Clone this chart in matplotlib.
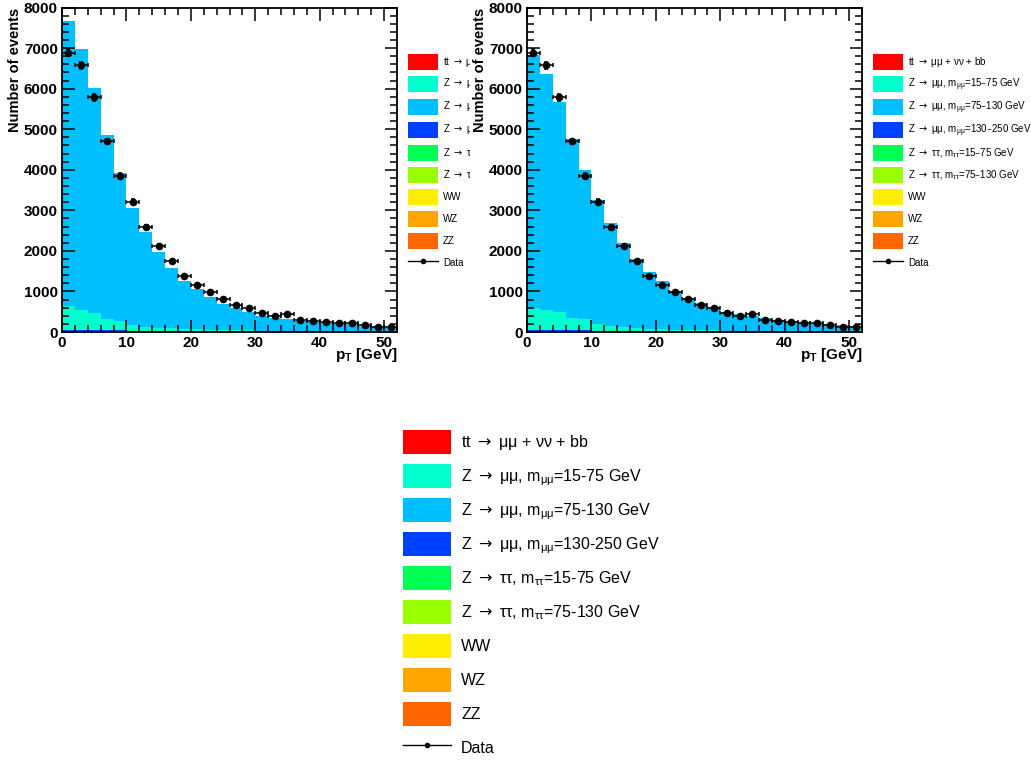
import numpy as np
import matplotlib
matplotlib.use("Agg")
import matplotlib.pyplot as plt
from matplotlib.patches import Patch
from matplotlib.lines import Line2D
from matplotlib.ticker import MultipleLocator, FixedLocator
from matplotlib.transforms import Bbox, TransformedBbox

plt.rcParams['font.family'] = ['Liberation Sans', 'DejaVu Sans']
plt.rcParams['mathtext.default'] = 'regular'
plt.rcParams['mathtext.fontset'] = 'dejavusans'

# ---------------- data ----------------
pt_edges = [0, 2, 4, 6, 8, 10, 12, 14, 16, 18, 20, 22, 24, 26, 28, 30,
            32, 34, 36, 38, 40, 42, 44, 46, 48, 50, 52]

data_counts = [6883, 6571, 5783, 4700, 3856, 3216, 2592, 2125, 1739, 1378,
               1157, 985, 812, 656, 582, 476, 402, 435, 287, 279, 254, 213,
               213, 164, 131, 123]

# small backgrounds (same in both panels)
tt_mumu = [1, 2, 2, 2, 2, 2, 2, 2, 2, 2, 2, 2, 2, 2, 1, 1, 1, 1, 1, 1, 1, 1, 1, 1, 1, 1]
ww = [1, 1, 1, 1, 1, 1, 1, 1, 1, 1, 1, 1, 1, 1, 1, 1, 1, 1, 1, 1, 1, 1, 1, 1, 1, 1]
wz = [1, 1, 1, 1, 1, 1, 1, 1, 1, 1, 1, 1, 1, 1, 1, 1, 1, 1, 1, 1, 1, 1, 1, 1, 1, 1]
zz = [1, 1, 1, 1, 1, 1, 1, 1, 1, 1, 1, 1, 1, 1, 1, 1, 1, 1, 1, 1, 1, 1, 1, 1, 1, 1]
ztt_75_130 = [8, 9, 9, 8, 8, 7, 7, 6, 6, 5, 5, 4, 4, 4, 3, 3, 3, 2, 2, 2, 2, 2, 1, 1, 1, 1]
ztt_15_75 = [14, 14, 13, 12, 11, 10, 9, 8, 7, 6, 6, 5, 5, 4, 4, 3, 3, 3, 3, 2, 2, 2, 2, 2, 1, 1]
zmm_130_250 = [22, 21, 20, 18, 16, 14, 12, 11, 10, 9, 8, 7, 6, 6, 5, 5, 4, 4, 4, 3, 3, 3, 3, 2, 2, 2]

# left panel
zmm_15_75_left = [600, 500, 420, 270, 230, 140, 100, 80, 65, 52, 40, 33, 28,
                  24, 21, 18, 16, 14, 12, 11, 10, 9, 8, 7, 6, 6]
zmm_75_130_left = [7020, 6428, 5545, 4546, 3648, 2893, 2323, 1855, 1479, 1191,
                   985, 805, 647, 546, 457, 371, 319, 287, 250, 227, 197, 182,
                   167, 144, 129, 120]
# right panel
zmm_15_75_right = [540, 495, 440, 310, 280, 155, 115, 85, 72, 60, 46, 38, 32,
                   27, 23, 20, 17, 15, 13, 12, 11, 10, 9, 8, 7, 6]
zmm_75_130_right = [6252, 5813, 5184, 4400, 3675, 3059, 2535, 2075, 1698, 1395,
                    1177, 957, 792, 675, 581, 470, 416, 362, 307, 268, 245, 222,
                    207, 184, 152, 137]

ARROW = r' $\mathrm{\rightarrow}$ '
labels_small = ['tt' + ARROW + 'μμ + νν + bb',
                'Z' + ARROW + 'μμ, m$_{μμ}$=15–75 GeV',
                'Z' + ARROW + 'μμ, m$_{μμ}$=75–130 GeV',
                'Z' + ARROW + 'μμ, m$_{μμ}$=130–250 GeV',
                'Z' + ARROW + 'ττ, m$_{ττ}$=15–75 GeV',
                'Z' + ARROW + 'ττ, m$_{ττ}$=75–130 GeV',
                'WW', 'WZ', 'ZZ', 'Data']
labels_big = ['tt' + ARROW + 'μμ + νν + bb',
              'Z' + ARROW + 'μμ, m$_{μμ}$=15-75 GeV',
              'Z' + ARROW + 'μμ, m$_{μμ}$=75-130 GeV',
              'Z' + ARROW + 'μμ, m$_{μμ}$=130-250 GeV',
              'Z' + ARROW + 'ττ, m$_{ττ}$=15-75 GeV',
              'Z' + ARROW + 'ττ, m$_{ττ}$=75-130 GeV',
              'WW', 'WZ', 'ZZ', 'Data']
colors = ['#ff0000', '#00ffcc', '#00bfff', '#0040ff', '#00ff55', '#99ff00',
          '#ffee00', '#ffa500', '#ff6600']

x_major = [0, 10, 20, 30, 40, 50]
y_major = [0, 1000, 2000, 3000, 4000, 5000, 6000, 7000, 8000]

# ---------------- figure ----------------
W, H = 1031, 762
fig = plt.figure(figsize=(W / 100, H / 100), dpi=100)


def rect(l, t, r, b):
    return [l / W, 1 - b / H, (r - l) / W, (b - t) / H]


def draw_panel(ax, zmm15, zmm75):
    edges = np.array(pt_edges, dtype=float)
    # stacking order bottom -> top, with colour index
    stack = [(tt_mumu, 0), (zz, 8), (wz, 7), (ww, 6), (ztt_75_130, 5),
             (ztt_15_75, 4), (zmm_130_250, 3), (zmm15, 1), (zmm75, 2)]
    bottom = np.zeros(len(edges) - 1)
    for vals, ci in stack:
        top = bottom + np.array(vals, dtype=float)
        ax.stairs(top, edges, baseline=bottom, fill=True, color=colors[ci],
                  linewidth=0)
        bottom = top
    centers = 0.5 * (edges[:-1] + edges[1:])
    halfw = 0.5 * np.diff(edges)
    d = np.array(data_counts, dtype=float)
    ax.errorbar(centers, d, xerr=halfw, yerr=np.sqrt(d), fmt='o', color='black',
                ms=4.5, elinewidth=1.1, capsize=1.5, capthick=1.1, zorder=5)
    ax.set_xlim(pt_edges[0], pt_edges[-1])
    ax.set_ylim(y_major[0], y_major[-1])
    ax.xaxis.set_major_locator(FixedLocator(x_major))
    ax.yaxis.set_major_locator(FixedLocator(y_major))
    ax.set_xticklabels([str(v) for v in x_major], fontweight='bold', fontsize=11)
    ax.set_yticklabels([str(v) for v in y_major], fontweight='bold', fontsize=11)
    ax.xaxis.set_minor_locator(MultipleLocator(2))
    ax.yaxis.set_minor_locator(MultipleLocator(200))
    ax.tick_params(which='both', direction='in', top=True, right=True, width=1.1)
    ax.tick_params(which='major', length=9, pad=3)
    ax.tick_params(which='minor', length=5)
    for s in ax.spines.values():
        s.set_linewidth(1.3)
    ax.set_ylabel('Number of events', fontsize=10.5, fontweight='bold', loc='top')
    ax.yaxis.set_label_coords(-0.12, 1.0)
    ax.set_xlabel('p$_T$ [GeV]', fontsize=11, fontweight='bold', loc='right')
    ax.xaxis.set_label_coords(1.0, -0.042)


axL = fig.add_axes(rect(62, 7.5, 397, 332))
axR = fig.add_axes(rect(527, 7.5, 862, 332))
draw_panel(axL, zmm_15_75_left, zmm_75_130_left)
draw_panel(axR, zmm_15_75_right, zmm_75_130_right)


def handles():
    hs = [Patch(facecolor=c, edgecolor='none') for c in colors]
    hs.append(Line2D([], [], color='black', lw=1, marker='o', ms=3))
    return hs


def legend_geom(fs_pt, patch_w, patch_h, row_pitch, text_gap):
    px = fs_pt * 100 / 72
    hh = (patch_h / px - 0.245) / 0.65
    return dict(fontsize=fs_pt, handlelength=patch_w / px, handleheight=hh,
                labelspacing=(row_pitch - patch_h) / px,
                handletextpad=text_gap / px)


small_geom = legend_geom(7.0, 30, 16, 22.1, 5)


def small_legend(x_left, y_top):
    return fig.legend(handles(), labels_small, loc='upper left',
                      bbox_to_anchor=(x_left / W, 1 - y_top / H),
                      bbox_transform=fig.transFigure, frameon=False,
                      borderpad=0, borderaxespad=0, numpoints=1, **small_geom)


legL = small_legend(408, 54)
legR = small_legend(873, 54)
clipbb = TransformedBbox(Bbox.from_extents(400 / W, 0, 470 / W, 1), fig.transFigure)
for a in legL.findobj():
    if a is legL:
        continue
    a.set_clip_box(clipbb)
    a.set_clip_on(True)

big_geom = legend_geom(11.5, 48, 24, 34, 10)
fig.legend(handles(), labels_big, loc='upper left',
           bbox_to_anchor=(403 / W, 1 - 430 / H), bbox_transform=fig.transFigure,
           frameon=False, borderpad=0, borderaxespad=0, numpoints=1, **big_geom)

fig.savefig('out.png', dpi=100)
